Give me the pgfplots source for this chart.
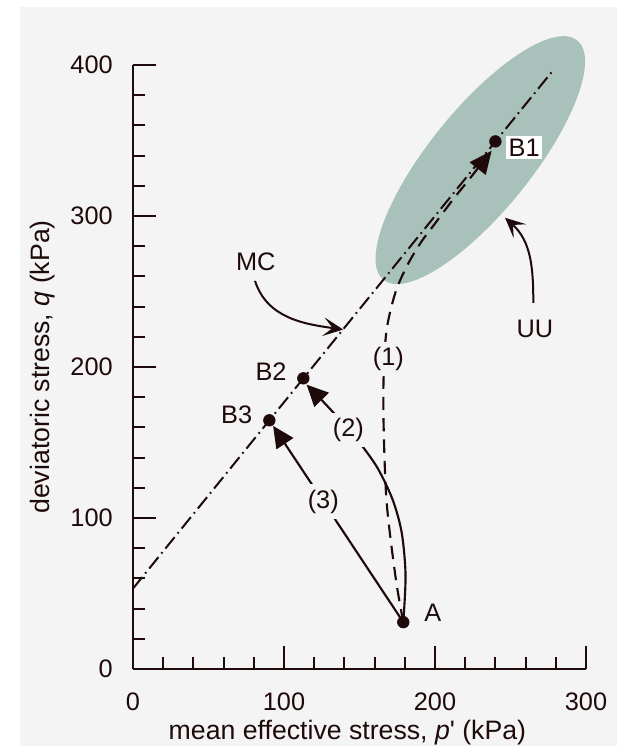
\documentclass[border=0pt]{standalone}
\usepackage{pgfplots}
\pgfplotsset{compat=1.18}
\usepackage{fontspec}
\setmainfont{Liberation Sans}[Ligatures=TeXOff]
\usetikzlibrary{arrows.meta}
\definecolor{bg}{RGB}{244,244,244}
\definecolor{ink}{RGB}{30,10,10}
\definecolor{uu}{RGB}{168,193,186}
\newcommand{\lab}{\fontsize{19}{22}\selectfont}
\begin{document}
\begin{tikzpicture}
\useasboundingbox (-99.75pt,-57.75pt) rectangle (363pt,501.75pt);
\fill[white] (-99.75pt,-57.75pt) rectangle (363pt,501.75pt);
\fill[bg] (-84.75pt,-57.75pt) rectangle (363pt,496.5pt);
\begin{axis}[
  at={(0pt,0pt)}, anchor=south west,
  x=1.1325pt, y=1.1325pt,
  xmin=0, xmax=300, ymin=0, ymax=400,
  axis x line*=bottom, axis y line*=left,
  axis line style={ink, line width=1.6pt},
  xtick={0,100,200,300}, ytick={0,100,200,300,400},
  minor x tick num=4, minor y tick num=4,
  tick align=inside,
  major tick length=17pt, minor tick length=9pt,
  every tick/.style={ink, line width=1.5pt},
  tick label style={font=\lab, text=ink, /pgf/number format/assume math mode=true},
  yticklabel style={anchor=east, inner sep=0pt, xshift=-15pt},
  xticklabel style={anchor=north, inner sep=0pt, yshift=-18pt},
  xlabel={mean effective stress, \textit{p}' (kPa)},
  ylabel={deviatoric stress, \textit{q} (kPa)},
  x label style={at={(axis description cs:0.4733,-0.1175)}, anchor=base, font=\fontsize{20}{24}\selectfont, text=ink, inner sep=0pt},
  y label style={at={(axis description cs:-0.1833,0.5)}, anchor=base, rotate=0, font=\fontsize{20}{24}\selectfont, text=ink, inner sep=0pt},
  clip=false,
]
% UU zone
\fill[uu, rotate around={51:(axis cs:230,337)}] (axis cs:230,337) ellipse [x radius=115.5pt, y radius=38.3pt];
% MC line
\addplot[ink, line width=1.5pt, dash pattern=on 11pt off 3.5pt on 1.3pt off 3.5pt] coordinates {(0,53.3) (278,396.2)};
% path (1)
\addplot[ink, line width=1.6pt, dash pattern=on 10pt off 6pt, smooth, -{Triangle[length=17pt,width=15pt]}] coordinates {
(179,31) (174,60) (168,110) (166,160) (166,195) (168,225) (174,250) (182,268) (191,283) (200,295) (212,311) (224,326) (237.5,343.2)};
% path (2)
\addplot[ink, line width=1.6pt, smooth, -{Triangle[length=16pt,width=15pt]}] coordinates {
(179,31) (180.5,62) (178,90) (172,112) (162,133) (150,150) (138,164) (126,177) (115,188.3)};
% path (3)
\addplot[ink, line width=1.6pt, -{Triangle[length=16pt,width=15pt]}] coordinates {(179,31) (92.8,161)};
% points
\addplot[only marks, mark=*, mark size=4.4pt, ink] coordinates {(179,31) (240,349.4) (112.8,192.5) (90.3,164.7)};
% annotation arrows
\draw[ink, line width=1.5pt, -{Stealth[length=15pt,width=14pt,inset=7pt]}] (axis cs:80.8,257) to[out=-72, in=172] (axis cs:139.2,224.8);
\draw[ink, line width=1.5pt, -{Stealth[length=15pt,width=14pt,inset=7pt]}] (axis cs:265.1,242.4) to[out=90, in=-42] (axis cs:246.4,298.8);
% labels
\node[font=\lab, text=ink] at (axis cs:198.5,36.9) {A};
\node[font=\lab, text=ink, fill=white, inner sep=2pt] at (axis cs:259,345.5) {B1};
\node[font=\lab, text=ink] at (axis cs:91.4,196.6) {B2};
\node[font=\lab, text=ink] at (axis cs:68.7,168.4) {B3};
\node[font=\lab, text=ink] at (axis cs:81.3,269.7) {MC};
\node[font=\lab, text=ink] at (axis cs:266.2,225.5) {UU};
\node[font=\lab, text=ink, fill=bg, inner sep=4pt] at (axis cs:169.1,205.4) {(1)};
\node[font=\lab, text=ink, fill=bg, inner sep=4pt] at (axis cs:142.6,158.4) {(2)};
\node[font=\lab, text=ink, fill=bg, inner sep=4pt] at (axis cs:126,110.9) {(3)};
\end{axis}
\end{tikzpicture}
\end{document}
